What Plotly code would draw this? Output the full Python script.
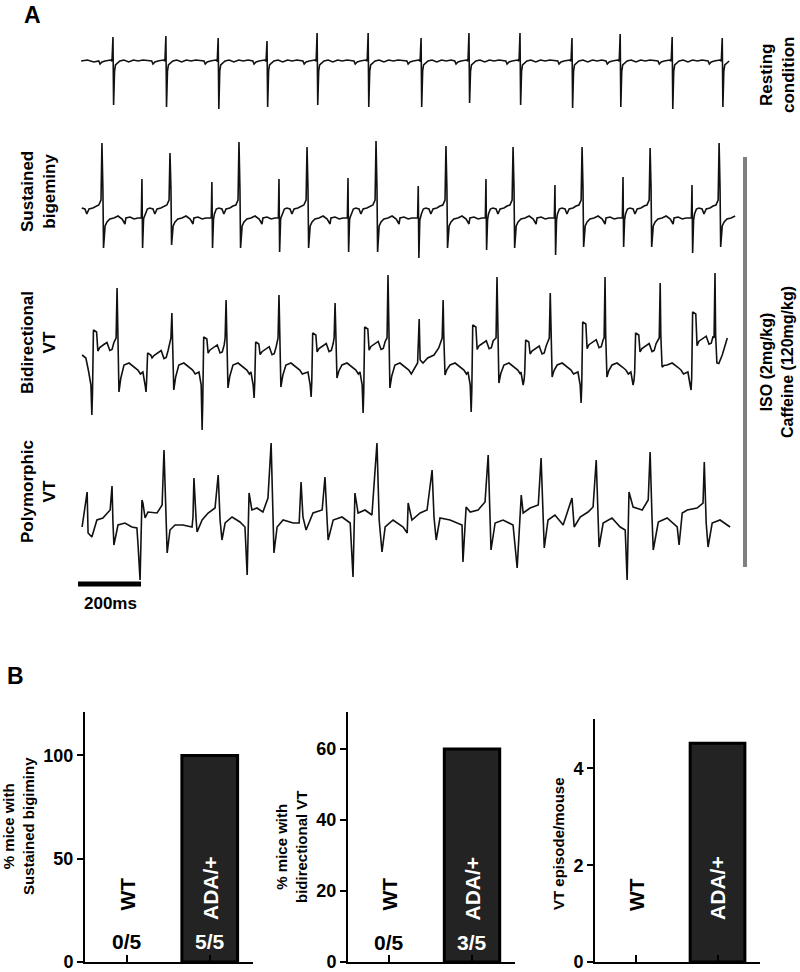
import plotly.graph_objects as go

W, H = 800, 972
FONT = "Liberation Sans, Arial, sans-serif"

# ==========================================
# Panel A data (time in ms, amplitude in arbitrary units)
# ==========================================
SCALE_MS = 200  # scale bar length

# resting condition: beat times, R height, S depth
rest_t = [111, 279, 445, 600, 759, 921, 1089, 1241, 1403, 1568, 1721, 1886, 2045]
rest_r = [24, 25, 23, 20, 28, 28, 23, 28, 28, 23, 27, 24, 23]
rest_s = [44, 46, 48, 46, 44, 46, 46, 42, 44, 47, 46, 48, 46]

# sustained bigeminy: large beats and interposed beats
big_t = [76, 292, 511, 727, 946, 1168, 1381, 1600, 1816, 2035]
big_r = [75, 65, 76, 71, 77, 72, 71, 71, 70, 75]
big_s = [30, 27, 30, 30, 34, 30, 30, 29, 29, 29]
pvc_t = [203, 425, 638, 857, 1080, 1295, 1514, 1730, 1949]
pvc_r = [39, 36, 39, 40, 32, 39, 33, 41, 33]
pvc_s = [30, 30, 34, 34, 40, 32, 37, 29, 35]

# bidirectional VT: negative-first complexes and positive-first complexes
bd_t = [44, 216, 394, 559, 740, 905, 1248, 1416, 1597, 1765, 1946]
bd_depth = [55, 32, 70, 38, 37, 53, 52, 20, 43, 20, 30]
bd_rise = [30, 7, 23, 18, 27, 33, 35, 20, 38, 27, 48]
bu_t = [124, 298, 470, 638, 816, 984, 1159, 1330, 1499, 1673, 1848, 2022]
bu_top = [72, 47, 60, 65, 57, 85, 60, 83, 67, 83, 77, 87]
bu_drop = [32, 30, 28, 27, 18, 28, 15, 23, 17, 17, 7, 3]
bx_t = [1078, 1083, 1086, 1095, 1110, 1130, 1145]
bx_v = [-3, 41, 0, -3, 2, 5, 12]

# polymorphic VT (read point by point)
poly_t = [13, 29, 32, 44, 60, 79, 102, 108, 111, 114, 127, 149, 171, 187, 191, 197, 203, 206,
          213, 222, 251, 267, 273, 279, 283, 292, 308, 333, 362, 365, 368, 375, 378, 394, 413,
          435, 445, 451, 457, 467, 489, 514, 530, 537, 543, 552, 568, 587, 603, 613, 619, 622,
          632, 651, 683, 702, 708, 714, 724, 746, 775, 784, 791, 794, 810, 838, 864, 873, 879,
          889, 911, 933, 949, 956, 965, 975, 1000, 1032, 1045, 1048, 1060, 1086, 1108, 1124,
          1130, 1137, 1149, 1181, 1219, 1222, 1232, 1245, 1270, 1292, 1302, 1308, 1311, 1324,
          1349, 1381, 1394, 1407, 1413, 1435, 1461, 1470, 1476, 1480, 1492, 1514, 1540, 1568,
          1575, 1594, 1619, 1635, 1645, 1651, 1654, 1667, 1695, 1721, 1737, 1743, 1749, 1762,
          1791, 1810, 1816, 1822, 1826, 1842, 1870, 1902, 1908, 1918, 1934, 1965, 1984, 1988,
          1994, 2000, 2013, 2038, 2070]
poly_v = [-7, 28, -13, -17, 0, 2, 10, 34, -3, -25, -5, -3, -7, -8, -27, -60, 20, 17,
          2, 8, 7, 15, 70, 13, -33, -10, -5, -5, -7, 3, 42, 0, -12, 0, 7,
          12, 45, 0, -20, -3, 3, -2, -7, -55, 27, 10, 12, 8, 22, 77, 7, -33,
          -7, 0, -3, -3, 38, 3, -10, 7, 10, 43, -2, -20, 0, 3, -3, -57, 27,
          7, 10, 5, 77, 0, -32, -7, 0, -7, -13, 17, 0, 7, 10, 50,
          3, -20, 2, 0, -5, -42, 13, 8, 10, 18, 65, 2, -30, -3,
          0, -5, -48, 25, 7, 12, 15, 62, 3, -28, 0, 5, -5, 22,
          -7, 3, 8, 13, 60, 0, -27, -3, 2, -7, -10, -60, 28, 13,
          10, 20, 68, 3, -30, -2, 2, -7, -25, 7, 10, 12, 17, 58,
          -3, -27, -3, 0, -7]

# ==========================================
# Panel B data
# ==========================================
groups = ["WT", "ADA/+"]
bigeminy_pct = [0, 100]
bigeminy_n = ["0/5", "5/5"]
bivt_pct = [0, 60]
bivt_n = ["0/5", "3/5"]
vt_episodes = [0, 4.52]


def assemble(pts, t_min, t_max):
    pts = sorted(p for p in pts if t_min <= p[0] <= t_max)
    return [p[0] for p in pts], [p[1] for p in pts]


def resting():
    pts = [(10, 0), (30, 1), (50, -1)]
    for t, r, s in zip(rest_t, rest_r, rest_s):
        for dt, v in [(-45, 0), (-41, -3), (-35, -1), (-25, 0), (-8, 1), (-3, 0), (0, r), (2, -s),
                      (5, -10), (8, -4), (14, -2), (22, 0), (35, 1), (50, -1), (65, 1), (80, 0), (95, 1)]:
            pts.append((t + dt, v))
    return assemble(pts, 0, 2075)


def bigeminy():
    pts = []
    for t, r, s in zip(big_t, big_r, big_s):
        for dt, v in [(-78, 4), (-72, 9), (-64, 10), (-54, 9), (-48, 4), (-41, 9), (-29, 10), (-19, 12),
                      (-10, 13), (-3, 18), (0, r), (3, 30), (5, -s), (10, -8), (16, -4), (25, -1),
                      (38, 0), (51, 2), (64, -1), (73, -6), (76, 0), (89, 1), (102, -1), (114, 0)]:
            pts.append((t + dt, v))
    for t, r, s in zip(pvc_t, pvc_r, pvc_s):
        for dt, v in [(-2, 0), (0, r), (2, -s), (5, -2), (6, 0)]:
            pts.append((t + dt, v))
    return assemble(pts, 8, 2090)


def bidirectional():
    pts = [(13, 5), (25, 2)] + list(zip(bx_t, bx_v))
    for t, d, h in zip(bd_t, bd_depth, bd_rise):
        p = 0.35 * h + 2
        for dt, v in [(-10, -12), (-3, -25), (0, -d), (2, -0.6 * d), (5, h), (15, h - 2), (19, 0.3 * h),
                      (25, p), (38, p + 3), (48, p + 5), (57, p - 3), (64, p - 2), (70, p + 5)]:
            pts.append((t + dt, v))
    for t, top, drop in zip(bu_t, bu_top, bu_drop):
        for dt, v in [(-3, 22), (0, top), (2, 25), (6, -drop), (12, -0.5 * drop - 2), (22, -5),
                      (38, -3), (55, -7), (66, -10), (74, -14)]:
            pts.append((t + dt, v))
    t, v = assemble(pts, 0, 2035)
    return t + [2045, 2061], v + [5, 22]


fig = go.Figure()

ecg = [resting(), bigeminy(), bidirectional(), (poly_t, poly_v)]
for i, (t, v) in enumerate(ecg, start=1):
    fig.add_trace(go.Scatter(x=t, y=v, mode="lines", xaxis=f"x{i}", yaxis=f"y{i}",
                             line=dict(color="#111111", width=1.6), hoverinfo="skip"))

# 200 ms scale bar
fig.add_trace(go.Scatter(x=[0, SCALE_MS], y=[-64, -64], mode="lines", xaxis="x4", yaxis="y4",
                         line=dict(color="black", width=5), hoverinfo="skip"))

# bar charts (no outline on empty WT bars)
bar_sets = [(bigeminy_pct, 5), (bivt_pct, 6), (vt_episodes, 7)]
for vals, k in bar_sets:
    fig.add_trace(go.Bar(x=[0, 1], y=vals, width=0.67, xaxis=f"x{k}", yaxis=f"y{k}",
                         marker=dict(color="#232323",
                                     line=dict(color="black", width=[3 if v else 0 for v in vals])),
                         hoverinfo="skip"))

ecg_x = dict(domain=[78 / W, 738 / W], range=[0, 2095], visible=False, fixedrange=True,
             automargin=False)
ecg_y = {1: ([-50, 30], 31, 111), 2: ([-45, 80], 138, 263), 3: ([-75, 90], 270, 435), 4: ([-70, 80], 440, 590)}
layout = {}
for i, (rng, top, bot) in ecg_y.items():
    layout[f"xaxis{i}"] = dict(ecg_x, anchor=f"y{i}")
    layout[f"yaxis{i}"] = dict(domain=[1 - bot / H, 1 - top / H], range=rng, visible=False,
                               fixedrange=True, anchor=f"x{i}", automargin=False)

tickfont = dict(family=FONT, size=18, color="black", weight="bold")
bar_axes = {5: ((85, 253), 712, [0, 121], [0, 50, 100]),
            6: ((348, 515), 712, [0, 70.4], [0, 20, 40, 60]),
            7: ((595, 760), 719, [0, 5.02], [0, 2, 4])}
for k, ((x0, x1), top, rng, ticks) in bar_axes.items():
    layout[f"xaxis{k}"] = dict(domain=[x0 / W, x1 / W], range=[-0.5, 1.52], anchor=f"y{k}",
                               tickvals=[0, 1], showticklabels=False, ticks="inside", ticklen=7,
                               tickwidth=2, tickcolor="black", showline=True, linewidth=2,
                               linecolor="black", showgrid=False, zeroline=False, fixedrange=True,
                               automargin=False)
    layout[f"yaxis{k}"] = dict(domain=[1 - 962 / H, 1 - top / H], range=rng, anchor=f"x{k}",
                               tickvals=ticks, ticks="outside", ticklen=6, tickwidth=2,
                               tickcolor="black", showline=True, linewidth=2, linecolor="black",
                               showgrid=False, zeroline=False, tickfont=tickfont,
                               ticklabeloverflow="allow", automargin=False, fixedrange=True)

fig.update_layout(width=W, height=H, margin=dict(l=0, r=0, t=0, b=0, autoexpand=False),
                  showlegend=False, paper_bgcolor="white", plot_bgcolor="white",
                  font=dict(family=FONT, color="black"), **layout)

# gray bracket for the drug challenge
fig.add_shape(type="line", xref="paper", yref="paper", x0=745 / W, x1=745 / W,
              y0=1 - 567 / H, y1=1 - 157 / H, line=dict(color="#808080", width=4))


def label(text, x, y, size, angle=0, color="black"):
    fig.add_annotation(text=text, xref="paper", yref="paper", x=x / W, y=1 - y / H,
                       xanchor="center", yanchor="middle", showarrow=False, textangle=angle,
                       font=dict(family=FONT, size=size, color=color, weight="bold"))


label("A", 32, 15, 23)
label("B", 15, 676, 23)
label("Resting<br>condition", 777, 75, 17, -90)
label("Sustained<br>bigeminy", 38, 192, 17, -90)
label("Bidirectional<br>VT", 38, 343, 17, -90)
label("Polymorphic<br>VT", 38, 492, 17, -90)
label("ISO (2mg/kg)<br>Caffeine (120mg/kg)", 777, 362, 16, -90)
label("200ms", 110, 603, 17)

label("% mice with<br>Sustained bigiminy", 18, 826, 15, -90)
label("% mice with<br>bidirectional VT", 291, 847, 15, -90)
label("VT episode/mouse", 558, 844, 15, -90)


def in_bar(k, text, x, y, size, angle=0, color="black"):
    fig.add_annotation(text=text, xref=f"x{k}", yref=f"y{k}", x=x, y=y, xanchor="center",
                       yanchor="middle", showarrow=False, textangle=angle,
                       font=dict(family=FONT, size=size, color=color, weight="bold"))


# group names and counts inside the bar charts
for k, (wt_y, ada_y) in {5: (32.9, 35.7), 6: (19.1, 20.7), 7: (1.4, 1.52)}.items():
    in_bar(k, groups[0], 0, wt_y, 21, -90)
    in_bar(k, groups[1], 1, ada_y, 21, -90, "white")
for k, counts, y in [(5, bigeminy_n, 9.7), (6, bivt_n, 5.6)]:
    in_bar(k, counts[0], 0, y, 21)
    in_bar(k, counts[1], 1, y, 21, 0, "white")

fig.write_html("out.html", config={"displayModeBar": False},
               post_script="document.body.style.margin = '0';")
